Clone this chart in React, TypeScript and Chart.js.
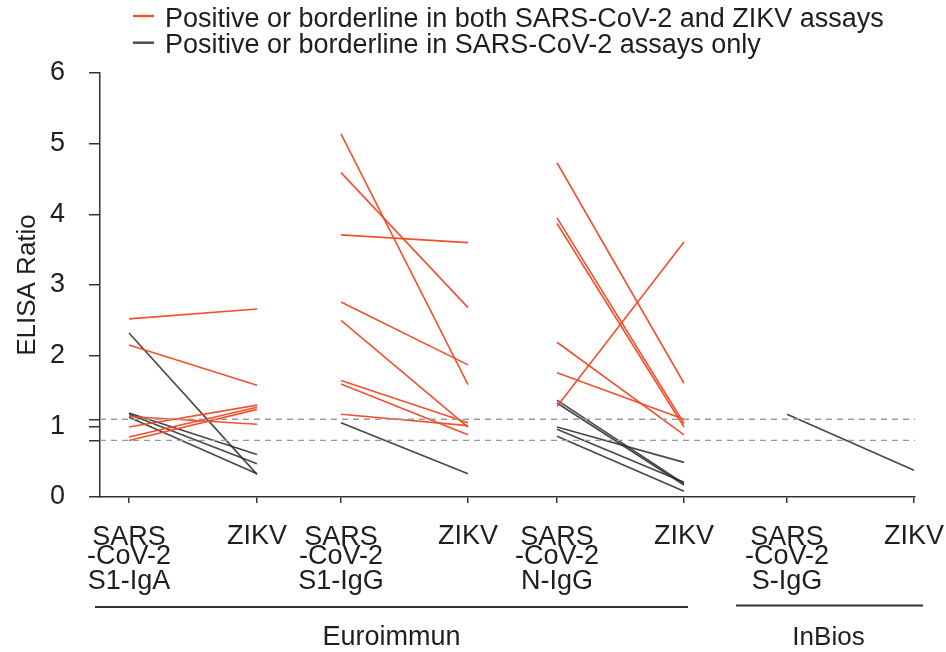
import React, { useEffect, useRef } from 'react';
import { Chart, registerables } from 'chart.js';

Chart.register(...registerables);

const FONT = '"Liberation Sans", Arial, Helvetica, sans-serif';

// ---- data ----
const categoryLabels: string[][] = [
  ['SARS', '-CoV-2', 'S1-IgA'], ['ZIKV'],
  ['SARS', '-CoV-2', 'S1-IgG'], ['ZIKV'],
  ['SARS', '-CoV-2', 'N-IgG'], ['ZIKV'],
  ['SARS', '-CoV-2', 'S-IgG'], ['ZIKV'],
];
const categoryPositions = [29, 157, 241, 368, 457, 584, 687, 814];
const xMin = 0;
const xMax = 815;
const yTickValues = [0, 0.8, 1, 1.1, 2, 3, 4, 5, 6];
const cutoffs = [1.1, 0.8];
const legendLabels = [
  'Positive or borderline in both SARS-CoV-2 and ZIKV assays',
  'Positive or borderline in SARS-CoV-2 assays only',
];
const manufacturers = ['Euroimmun', 'InBios'];
const manufacturerSpans = [[0, 5], [6, 7]];

// S1-IgA (Euroimmun)
const igaRedSars = [2.52, 2.15, 1.14, 0.99, 0.85, 0.80];
const igaRedZikv = [2.66, 1.58, 1.03, 1.30, 1.27, 1.24];
const igaBlackSars = [2.32, 1.19, 1.17, 1.13];
const igaBlackZikv = [0.32, 0.60, 0.47, 0.33];
// S1-IgG (Euroimmun)
const iggRedSars = [5.14, 4.59, 3.71, 2.76, 2.50, 1.65, 1.60, 1.17];
const iggRedZikv = [1.59, 2.68, 3.60, 1.87, 0.99, 1.05, 0.88, 1.01];
const iggBlackSars = [1.05];
const iggBlackZikv = [0.33];
// N-IgG (Euroimmun)
const nRedSars = [4.73, 3.95, 3.87, 2.19, 1.76, 1.28];
const nRedZikv = [1.61, 1.04, 0.99, 0.88, 1.10, 3.61];
const nBlackSars = [1.37, 1.33, 0.99, 0.96, 0.86];
const nBlackZikv = [0.19, 0.17, 0.49, 0.21, 0.08];
// S-IgG (InBios)
const sBlackSars = [1.17];
const sBlackZikv = [0.38];

const RED = 'rgba(240, 72, 36, 0.95)';
const BLACK = 'rgba(45, 45, 45, 0.88)';
const TEXT = '#1e1e1e';
const AXIS = '#333333';

function pairDatasets(group: number, sars: number[], zikv: number[], color: string) {
  return sars.map((s, i) => ({
    data: [
      { x: categoryPositions[group * 2], y: s },
      { x: categoryPositions[group * 2 + 1], y: zikv[i] },
    ],
    borderColor: color,
    borderWidth: 1.6,
    pointRadius: 0,
    fill: false,
    tension: 0,
  }));
}

const datasets: any[] = [
  ...cutoffs.map((c) => ({
    data: [{ x: xMin, y: c }, { x: xMax, y: c }],
    borderColor: '#9c9c9c',
    borderWidth: 1.3,
    borderDash: [6, 5],
    pointRadius: 0,
    fill: false,
  })),
  ...pairDatasets(0, igaRedSars, igaRedZikv, RED),
  ...pairDatasets(0, igaBlackSars, igaBlackZikv, BLACK),
  ...pairDatasets(1, iggRedSars, iggRedZikv, RED),
  ...pairDatasets(1, iggBlackSars, iggBlackZikv, BLACK),
  ...pairDatasets(2, nRedSars, nRedZikv, RED),
  ...pairDatasets(2, nBlackSars, nBlackZikv, BLACK),
  ...pairDatasets(3, sBlackSars, sBlackZikv, BLACK),
];

const decorPlugin = {
  id: 'decor',
  afterDraw(chart: any) {
    const ctx: CanvasRenderingContext2D = chart.ctx;
    const xs = chart.scales.x;
    const bottom = chart.chartArea.bottom;
    ctx.save();
    ctx.fillStyle = TEXT;
    ctx.textAlign = 'center';
    ctx.textBaseline = 'alphabetic';
    ctx.font = `27px ${FONT}`;
    categoryLabels.forEach((lines, i) => {
      const px = xs.getPixelForValue(categoryPositions[i]);
      const offs = lines.length === 1 ? [46.5] : [48, 66.5, 92];
      lines.forEach((t, j) => ctx.fillText(t, px, bottom + offs[j]));
    });

    // manufacturer brackets
    ctx.strokeStyle = AXIS;
    ctx.lineWidth = 2;
    manufacturerSpans.forEach(([a, b], i) => {
      const x1 = xs.getPixelForValue(categoryPositions[a]) - (i === 0 ? 34 : 51);
      const x2 = xs.getPixelForValue(categoryPositions[b]) + (i === 0 ? 4 : 9);
      const y = bottom + (i === 0 ? 110 : 108.5);
      ctx.beginPath();
      ctx.moveTo(x1, y);
      ctx.lineTo(x2, y);
      ctx.stroke();
      ctx.font = `${i === 0 ? 27 : 26}px ${FONT}`;
      ctx.fillText(manufacturers[i], (x1 + x2) / 2 + (i === 0 ? 0 : -1), bottom + 148);
    });

    // legend
    const colors = [RED, BLACK];
    ctx.textAlign = 'left';
    ctx.font = `27px ${FONT}`;
    legendLabels.forEach((t, i) => {
      const ym = 16 + i * 26.7;
      ctx.strokeStyle = colors[i];
      ctx.lineWidth = 2.4;
      ctx.beginPath();
      ctx.moveTo(133, ym);
      ctx.lineTo(154, ym);
      ctx.stroke();
      ctx.fillStyle = TEXT;
      ctx.fillText(t, 165, 26.7 + i * 26.6);
    });
    ctx.restore();
  },
};

export default function App() {
  const ref = useRef<HTMLCanvasElement>(null);
  useEffect(() => {
    if (!ref.current) return;
    const chart = new Chart(ref.current, {
      type: 'line',
      data: { datasets },
      options: {
        animation: false,
        responsive: false,
        maintainAspectRatio: false,
        layout: { padding: { left: 0, top: 73, right: 31, bottom: 0 } },
        plugins: {
          legend: { display: false },
          tooltip: { enabled: false },
        },
        scales: {
          x: {
            type: 'linear',
            min: xMin,
            max: xMax,
            afterBuildTicks: (scale: any) => {
              scale.ticks = categoryPositions.map((v) => ({ value: v }));
            },
            afterFit: (scale: any) => {
              scale.height = 155;
            },
            ticks: { display: false },
            grid: {
              drawOnChartArea: false,
              drawTicks: true,
              tickLength: 6,
              color: AXIS,
              lineWidth: 1.5,
            },
            border: { display: true, color: AXIS, width: 1.5 },
          },
          y: {
            type: 'linear',
            min: 0,
            max: 6,
            afterBuildTicks: (scale: any) => {
              scale.ticks = yTickValues.map((v) => ({ value: v }));
            },
            afterFit: (scale: any) => {
              scale.width = 100;
            },
            ticks: {
              autoSkip: false,
              padding: 24,
              color: TEXT,
              font: { family: FONT, size: 27 },
              callback: (v: any) => (Number.isInteger(Number(v)) ? String(v) : ''),
            },
            grid: {
              drawOnChartArea: false,
              drawTicks: true,
              tickLength: 11,
              color: AXIS,
              lineWidth: 1.5,
            },
            border: { display: true, color: AXIS, width: 1.5 },
            title: {
              display: true,
              text: 'ELISA Ratio',
              color: TEXT,
              font: { family: FONT, size: 26 },
              padding: { top: 12, bottom: 0 },
            },
          },
        },
      },
      plugins: [decorPlugin],
    } as any);
    return () => chart.destroy();
  }, []);
  return (
    <div style={{ position: 'fixed', left: 0, top: 0, width: 946, height: 652, background: '#fff' }}>
      <canvas ref={ref} width={946} height={652} style={{ width: 946, height: 652, display: 'block' }} />
    </div>
  );
}
